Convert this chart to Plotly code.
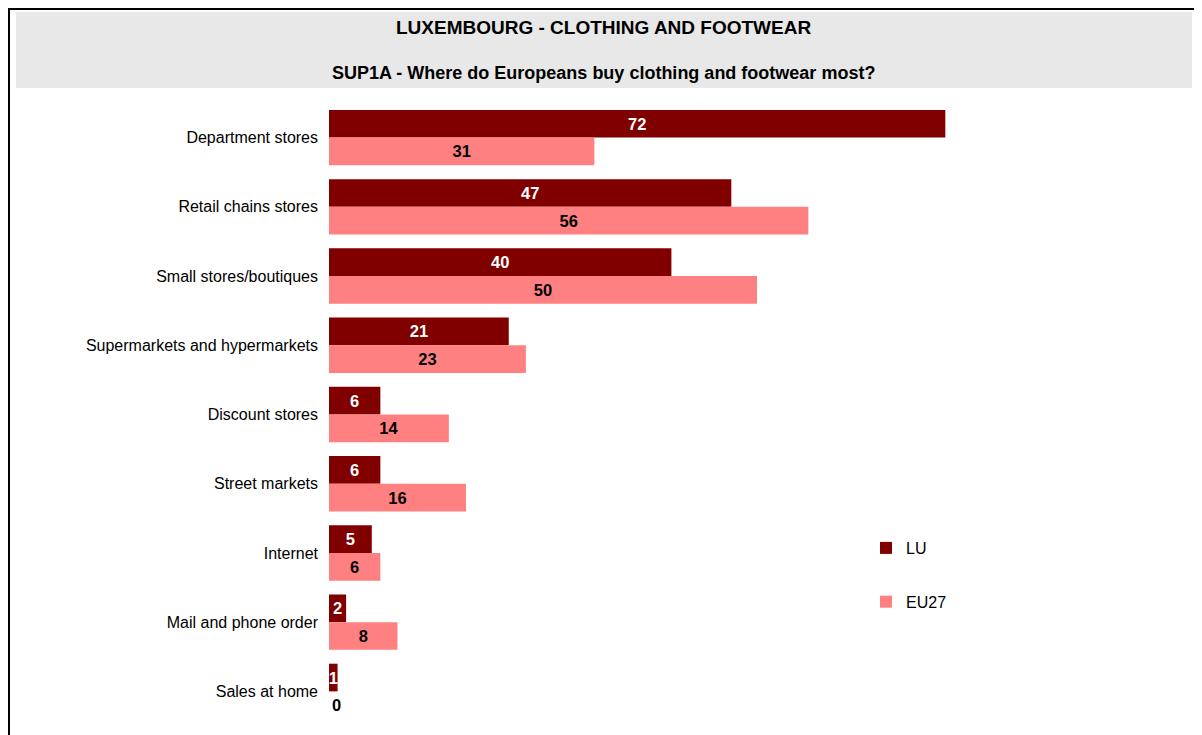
import plotly.graph_objects as go

categories = ["Department stores", "Retail chains stores", "Small stores/boutiques",
              "Supermarkets and hypermarkets", "Discount stores", "Street markets",
              "Internet", "Mail and phone order", "Sales at home"]
lu_values = [72, 47, 40, 21, 6, 6, 5, 2, 1]
eu27_values = [31, 56, 50, 23, 14, 16, 6, 8, 0]

title_text = "LUXEMBOURG - CLOTHING AND FOOTWEAR"
subtitle_text = "SUP1A - Where do Europeans buy clothing and footwear most?"

OFF = 8  # page offset of the figure
W, H = 1194, 727
L, R, T, B = 321, 17, 95, 9
pw = W - L - R
ph = H - T - B

def px(x):
    return (x - OFF - L) / pw

def py(y):
    return (H - B - (y - OFF)) / ph

FONT = "Arial, Liberation Sans, sans-serif"
bar_font = dict(size=16.5, family=FONT, weight="bold")

eu_pos = ["outside" if v == 0 else "inside" for v in eu27_values]

fig = go.Figure()
fig.add_trace(go.Bar(
    y=categories, x=lu_values, orientation="h", name="LU",
    marker=dict(color="#800000", line=dict(width=0)),
    text=lu_values, textposition="inside", insidetextanchor="middle",
    constraintext="none",
    textfont=dict(color="white", **bar_font),
    legendgroup="a", cliponaxis=False,
))
fig.add_trace(go.Bar(
    y=categories, x=eu27_values, orientation="h", name="EU27",
    marker=dict(color="#FF8080", line=dict(width=0)),
    text=eu27_values, textposition=eu_pos, insidetextanchor="middle",
    constraintext="none",
    textfont=dict(color="black", **bar_font),
    outsidetextfont=dict(color="black", **bar_font),
    insidetextfont=dict(color="black", **bar_font),
    legendgroup="b", cliponaxis=False,
))

fig.update_layout(
    width=W, height=H,
    margin=dict(l=L, r=R, t=T, b=B, autoexpand=False),
    paper_bgcolor="white", plot_bgcolor="white",
    barmode="group", bargap=0.2, bargroupgap=0,
    font=dict(family=FONT, size=16, color="black"),
    xaxis=dict(range=[0, 100], showgrid=False, zeroline=False,
               showticklabels=False, showline=False, ticks=""),
    yaxis=dict(autorange="reversed", showgrid=False, zeroline=False,
               showline=False, ticks="", ticklabelstandoff=10,
               tickfont=dict(size=16, family=FONT, color="black")),
    legend=dict(x=px(866), y=py(531), xanchor="left", yanchor="top",
                traceorder="grouped", tracegroupgap=30,
                font=dict(size=16, family=FONT, color="black"),
                itemwidth=30, bgcolor="rgba(0,0,0,0)"),
    showlegend=True,
)

shapes = [
    dict(type="rect", xref="paper", yref="paper", x0=px(16), x1=px(1192),
         y0=py(88), y1=py(12), fillcolor="#E8E8E8", line=dict(width=0), layer="below"),
    dict(type="line", xref="paper", yref="paper", x0=px(9), x1=px(9),
         y0=py(8), y1=py(740), line=dict(color="black", width=2)),
    dict(type="line", xref="paper", yref="paper", x0=px(8), x1=px(1197),
         y0=py(9), y1=py(9), line=dict(color="black", width=2)),
]
fig.update_layout(shapes=shapes)

fig.add_annotation(text=title_text, xref="paper", yref="paper",
                   x=px(603), y=py(28), xanchor="center", yanchor="middle",
                   showarrow=False,
                   font=dict(size=19, family=FONT, color="black", weight="bold"))
fig.add_annotation(text=subtitle_text, xref="paper", yref="paper",
                   x=px(603), y=py(73), xanchor="center", yanchor="middle",
                   showarrow=False,
                   font=dict(size=18, family=FONT, color="black", weight="bold"))

fig.write_html("out.html")
